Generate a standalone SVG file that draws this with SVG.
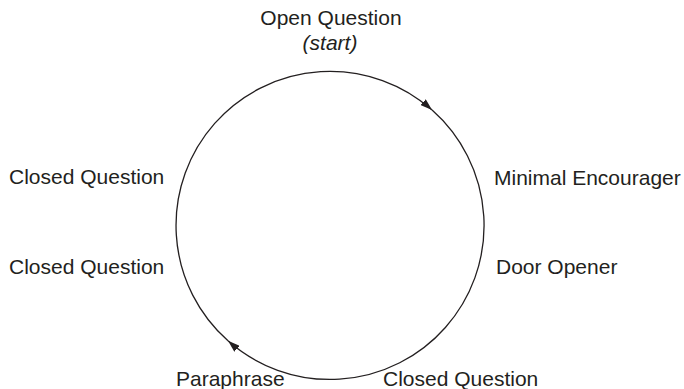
<svg xmlns="http://www.w3.org/2000/svg" width="684" height="389" viewBox="0 0 684 389">
<style>
text{font-family:"Liberation Sans",Arial,sans-serif;font-size:21px;fill:#231f20}
.conn{fill:none;stroke:#231f20;stroke-width:1.3}
</style>
<defs>
<marker id="ah" viewBox="0 0 12 8" refX="12" refY="4" markerWidth="12" markerHeight="8" markerUnits="userSpaceOnUse" orient="auto">
<path d="M0,0 L12,4 L0,8 Z" fill="#231f20"/>
</marker>
</defs>
<g id="connectors">
<path class="conn" d="M228,340.8 A154,154 0 1 1 432.1,110.1" marker-end="url(#ah)"/>
<path class="conn" d="M432.1,110.1 A154,154 0 0 1 228,340.8" marker-end="url(#ah)"/>
</g>
<g id="open-question">
<text x="331" y="25" text-anchor="middle">Open Question</text>
<text x="330" y="50" text-anchor="middle" font-style="italic">(start)</text>
</g>
<g id="minimal-encourager"><text x="494" y="185">Minimal Encourager</text></g>
<g id="door-opener"><text x="496" y="274">Door Opener</text></g>
<g id="closed-question-bottom"><text x="383" y="386">Closed Question</text></g>
<g id="paraphrase"><text x="176" y="386">Paraphrase</text></g>
<g id="closed-question-lower"><text x="9" y="274">Closed Question</text></g>
<g id="closed-question-upper"><text x="9" y="184">Closed Question</text></g>
</svg>
